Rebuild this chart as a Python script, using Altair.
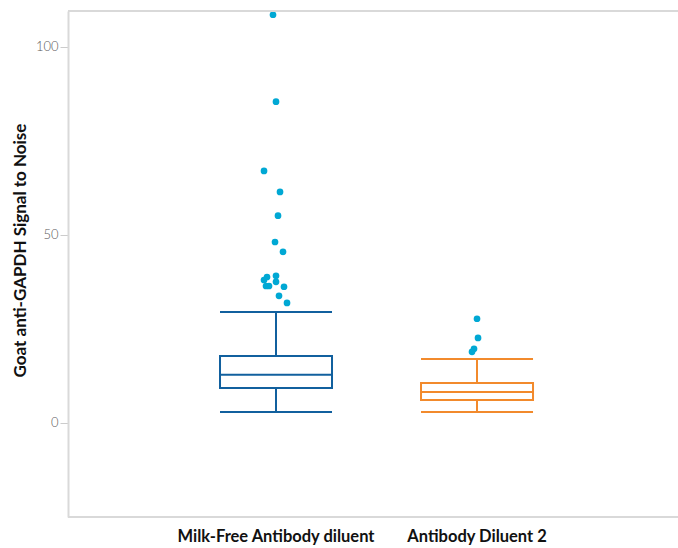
import altair as alt
import pandas as pd

categories = ["Milk-Free Antibody diluent", "Antibody Diluent 2"]
box_colors = ["#11609e", "#f28a2c"]
lower = [2.9, 2.9]
q1 = [9.3, 6.1]
median = [12.8, 8.2]
q3 = [17.8, 10.6]
upper = [29.5, 17.0]

out_group = [0] * 16 + [1] * 4
out_value = [108.5, 85.4, 67.0, 61.4, 55.1, 48.1, 45.5, 38.0, 38.8, 39.1,
             37.5, 36.4, 36.4, 36.2, 33.8, 31.9,
             27.7, 22.6, 19.7, 18.9]
out_jitter = [-3, 0, -12, 4, 2, -1, 7, -12, -9, 0,
              0, -10, -7, 8, 3, 11,
              0, 1, -3, -5]

stats = pd.DataFrame({
    "group": categories,
    "lower": lower, "q1": q1, "median": median, "q3": q3, "upper": upper,
})
outliers = pd.DataFrame({
    "group": [categories[g] for g in out_group],
    "value": out_value,
    "jitter": out_jitter,
})

FONT = "Lato"
W, H = 600, 506
BOXW = 112
FRAME = "#d9d9d9"

xscale = alt.Scale(domain=categories, paddingInner=0, paddingOuter=0.4925, align=0.543)
yscale = alt.Scale(domain=[-25, 109.5], nice=False, zero=False)
color = alt.Color("group:N", scale=alt.Scale(domain=categories, range=box_colors), legend=None)

xaxis = alt.Axis(title=None, ticks=False, labelAngle=0, labelFont=FONT, labelFontSize=16.5,
                 labelFontWeight="bold", labelColor="#111111", labelPadding=11, labelLimit=400,
                 domain=False, grid=False)
yaxis = alt.Axis(title="Goat anti-GAPDH Signal to Noise", values=[0, 50, 100],
                 titleFont=FONT, titleFontSize=17, titleFontWeight="bold", titleColor="#111111",
                 titleX=-48, titleY=239, titleBaseline="middle",
                 labelFont=FONT, labelFontSize=13, labelFontWeight=300, labelColor="#5a5a5a",
                 labelPadding=2, tickSize=8, tickColor="#cccccc", tickWidth=1,
                 domainColor=FRAME, domainWidth=2, grid=False)

X = alt.X("group:N", sort=categories, scale=xscale, axis=xaxis)

base = alt.Chart(stats)

whiskers = base.mark_rule(strokeWidth=2).encode(
    x=X, y=alt.Y("lower:Q", scale=yscale, axis=yaxis), y2="upper:Q", stroke=color)
boxes = base.mark_bar(size=BOXW, fill="white", strokeWidth=2).encode(
    x=X, y="q1:Q", y2="q3:Q", stroke=color)
med = base.mark_tick(size=BOXW, thickness=2, opacity=1).encode(x=X, y="median:Q", color=color)
lo_cap = base.mark_tick(size=BOXW, thickness=2, opacity=1).encode(x=X, y="lower:Q", color=color)
hi_cap = base.mark_tick(size=BOXW, thickness=2, opacity=1).encode(x=X, y="upper:Q", color=color)

pts = alt.Chart(outliers).mark_circle(size=45, opacity=1, color="#00a8d4").encode(
    x=X,
    xOffset=alt.XOffset("jitter:Q", scale=alt.Scale(domain=[-100.5, 100.5])),
    y="value:Q")

top = alt.Chart(stats).mark_rule(color=FRAME, strokeWidth=2).encode(
    x=alt.value(0), x2=alt.value(W + 10), y=alt.value(0))
bottom = alt.Chart(stats).mark_rule(color=FRAME, strokeWidth=2).encode(
    x=alt.value(0), x2=alt.value(W + 10), y=alt.value(H))

chart = alt.layer(whiskers, boxes, med, lo_cap, hi_cap, pts, top, bottom).properties(
    width=W, height=H,
    autosize=alt.AutoSizeParams(type="none"),
    padding={"left": 68, "top": 11, "right": 10, "bottom": 31},
    background="white",
).configure_view(stroke="transparent", strokeWidth=0)

chart.save("out.html", embed_options={"renderer": "svg", "actions": False})
